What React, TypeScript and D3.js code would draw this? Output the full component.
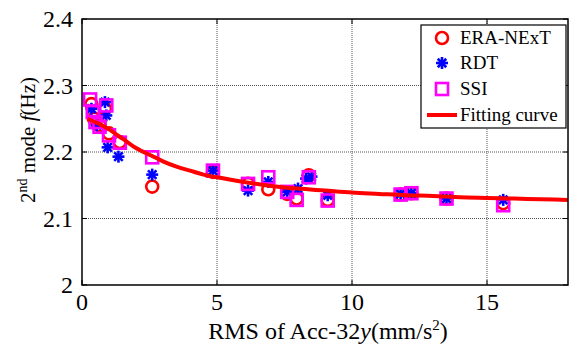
import React from "react";
import * as d3 from "d3";

// ERA-NExT identified frequencies [RMS, f]
const eraX = [0.35, 0.45, 0.65, 0.85, 1.0, 1.4, 2.6, 4.85, 6.15, 6.9, 7.6, 7.95, 8.4, 9.1, 11.8, 12.2, 13.5, 15.6];
const eraY = [2.272, 2.25, 2.24, 2.265, 2.228, 2.215, 2.148, 2.17, 2.152, 2.144, 2.137, 2.13, 2.165, 2.128, 2.136, 2.138, 2.13, 2.123];

// RDT identified frequencies
const rdtX = [0.35, 0.55, 0.85, 0.9, 0.95, 1.35, 2.6, 4.85, 6.15, 6.9, 7.6, 8.0, 8.3, 8.5, 9.1, 11.8, 12.2, 13.5, 15.6];
const rdtY = [2.265, 2.24, 2.275, 2.255, 2.207, 2.193, 2.166, 2.172, 2.142, 2.155, 2.14, 2.145, 2.16, 2.163, 2.135, 2.137, 2.138, 2.13, 2.128];

// SSI identified frequencies
const ssiX = [0.3, 0.4, 0.5, 0.65, 0.9, 1.0, 1.4, 2.6, 4.85, 6.15, 6.9, 7.6, 7.95, 8.4, 9.1, 11.8, 12.2, 13.5, 15.6];
const ssiY = [2.279, 2.26, 2.245, 2.238, 2.27, 2.225, 2.214, 2.192, 2.172, 2.152, 2.162, 2.14, 2.128, 2.162, 2.127, 2.136, 2.138, 2.13, 2.12];

// Fitting curve samples
const fitX = [0.2, 0.6, 1.0, 1.5, 2.0, 2.6, 3.0, 3.5, 4.0, 4.5, 5, 6, 7, 8, 9, 10, 11, 12, 13, 14, 15, 16, 17, 18];
const fitY = [2.25, 2.243, 2.234, 2.22, 2.206, 2.194, 2.186, 2.178, 2.172, 2.166, 2.162, 2.155, 2.149, 2.145, 2.142, 2.139, 2.137, 2.135, 2.134, 2.132, 2.131, 2.13, 2.129, 2.128];

const xTicks = [0, 5, 10, 15];
const yTicks = [2, 2.1, 2.2, 2.3, 2.4];
const legendLabels = ["ERA-NExT", "RDT", "SSI", "Fitting curve"];

const W = 570;
const H = 351;
const L = 82;
const R = 568;
const T = 19;
const B = 285;

const FONT = "Liberation Serif, Times New Roman, DejaVu Serif, serif";
const RED = "#ff0000";
const BLUE = "#0000ff";
const MAGENTA = "#ff00ff";

const x = d3.scaleLinear().domain([0, 18]).range([L, R]);
const y = d3.scaleLinear().domain([2, 2.4]).range([B, T]);

function Circle({ cx, cy }: { cx: number; cy: number }) {
  return <circle cx={cx} cy={cy} r={6} fill="none" stroke={RED} strokeWidth={2.6} />;
}

function Star({ cx, cy }: { cx: number; cy: number }) {
  const s = 6;
  const d = s * Math.SQRT1_2;
  return (
    <g stroke={BLUE} strokeWidth={2.6} strokeLinecap="butt">
      <line x1={cx - s} y1={cy} x2={cx + s} y2={cy} />
      <line x1={cx} y1={cy - s} x2={cx} y2={cy + s} />
      <line x1={cx - d} y1={cy - d} x2={cx + d} y2={cy + d} />
      <line x1={cx - d} y1={cy + d} x2={cx + d} y2={cy - d} />
    </g>
  );
}

function Square({ cx, cy }: { cx: number; cy: number }) {
  const h = 6;
  return <rect x={cx - h} y={cy - h} width={2 * h} height={2 * h} fill="none" stroke={MAGENTA} strokeWidth={2.6} />;
}

export default function App() {
  const line = d3
    .line<number>()
    .x((_, i) => x(fitX[i]))
    .y((v) => y(v))
    .curve(d3.curveMonotoneX);

  const lgX = 421;
  const lgY = 25;
  const lgW = 145;
  const lgH = 103;
  const rowY = [38, 63, 89, 115];
  const textStyle = { fontFamily: FONT };

  return (
    <svg width={W} height={H} style={{ position: "absolute", left: 0, top: 0, background: "#fff" }}>
      <rect x={0} y={0} width={W} height={H} fill="#fff" />
      {/* grid */}
      <g stroke="#555" strokeWidth={1} strokeDasharray="1 1">
        {xTicks.filter((t) => t > 0).map((t) => (
          <line key={"gx" + t} x1={x(t)} x2={x(t)} y1={T} y2={B} />
        ))}
        {yTicks.filter((t) => t > 2 && t < 2.4).map((t) => (
          <line key={"gy" + t} x1={L} x2={R} y1={y(t)} y2={y(t)} />
        ))}
      </g>
      {/* ticks */}
      <g stroke="#000" strokeWidth={1}>
        {xTicks.map((t) => (
          <g key={"tx" + t}>
            <line x1={x(t)} x2={x(t)} y1={B} y2={B - 5} />
            <line x1={x(t)} x2={x(t)} y1={T} y2={T + 5} />
          </g>
        ))}
        {yTicks.map((t) => (
          <g key={"ty" + t}>
            <line x1={L} x2={L + 5} y1={y(t)} y2={y(t)} />
            <line x1={R} x2={R - 5} y1={y(t)} y2={y(t)} />
          </g>
        ))}
      </g>
      {/* data */}
      {eraX.map((v, i) => (
        <Circle key={"e" + i} cx={x(v)} cy={y(eraY[i])} />
      ))}
      {rdtX.map((v, i) => (
        <Star key={"r" + i} cx={x(v)} cy={y(rdtY[i])} />
      ))}
      {ssiX.map((v, i) => (
        <Square key={"s" + i} cx={x(v)} cy={y(ssiY[i])} />
      ))}
      <path d={line(fitY) || ""} fill="none" stroke={RED} strokeWidth={4} />
      {/* frame */}
      <rect x={L} y={T} width={R - L} height={B - T} fill="none" stroke="#000" strokeWidth={1.5} />
      {/* tick labels */}
      <g fontSize={24} fill="#000" style={textStyle}>
        {xTicks.map((t) => (
          <text key={"lx" + t} x={x(t)} y={B + 25} textAnchor="middle">
            {t}
          </text>
        ))}
        {yTicks.map((t) => (
          <text key={"ly" + t} x={L - 9} y={y(t) + 8} textAnchor="end">
            {t === 2 ? "2" : t.toFixed(1)}
          </text>
        ))}
      </g>
      {/* axis titles */}
      <text x={(L + R) / 2 + 3} y={339} textAnchor="middle" fontSize={24} fill="#000" style={textStyle}>
        RMS of Acc-32<tspan fontStyle="italic">y</tspan>(mm/s
        <tspan dy={-9} fontSize={15}>2</tspan>
        <tspan dy={9}>)</tspan>
      </text>
      <text transform={`translate(35, ${(T + B) / 2 - 12}) rotate(-90)`} textAnchor="middle" fontSize={21} fill="#000" style={textStyle}>
        2<tspan dy={-8} fontSize={14}>nd</tspan>
        <tspan dy={8}> mode </tspan>
        <tspan fontStyle="italic">f</tspan>(Hz)
      </text>
      {/* legend */}
      <rect x={lgX} y={lgY} width={lgW} height={lgH} fill="#fff" stroke="#000" strokeWidth={1.2} />
      <Circle cx={442} cy={rowY[0]} />
      <Star cx={442} cy={rowY[1]} />
      <Square cx={442} cy={rowY[2]} />
      <line x1={427} x2={457} y1={rowY[3]} y2={rowY[3]} stroke={RED} strokeWidth={4} />
      <g fontSize={19} fill="#000" style={textStyle}>
        {legendLabels.map((lbl, i) => (
          <text key={lbl} x={460} y={rowY[i] + 6}>
            {lbl}
          </text>
        ))}
      </g>
    </svg>
  );
}
